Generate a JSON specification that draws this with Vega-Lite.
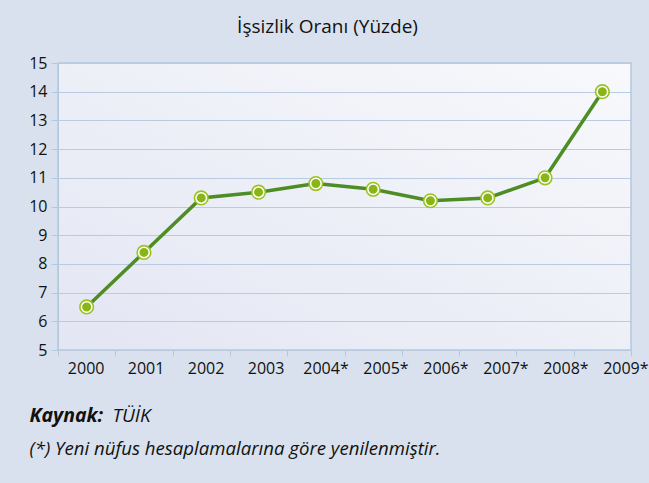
{
  "$schema": "https://vega.github.io/schema/vega-lite/v6.json",
  "width": 573,
  "height": 287,
  "autosize": {"type": "none"},
  "padding": {"left": 58, "top": 63, "right": 18, "bottom": 133},
  "background": "#d8e1ed",
  "title": {
    "text": "İşsizlik Oranı (Yüzde)",
    "font": "Open Sans",
    "fontSize": 19,
    "fontWeight": "normal",
    "color": "#111111",
    "anchor": "middle",
    "dx": -17,
    "offset": 18
  },
  "data": {
    "values": [
      {"year": "2000", "rate": 6.5},
      {"year": "2001", "rate": 8.4},
      {"year": "2002", "rate": 10.3},
      {"year": "2003", "rate": 10.5},
      {"year": "2004*", "rate": 10.8},
      {"year": "2005*", "rate": 10.6},
      {"year": "2006*", "rate": 10.2},
      {"year": "2007*", "rate": 10.3},
      {"year": "2008*", "rate": 11.0},
      {"year": "2009*", "rate": 14.0}
    ]
  },
  "encoding": {
    "x": {
      "field": "year",
      "type": "ordinal",
      "sort": null,
      "scale": {"type": "band", "paddingInner": 0, "paddingOuter": 0},
      "axis": {
        "title": "(*) Yeni nüfus hesaplamalarına göre yenilenmiştir.",
        "titleFont": "Open Sans",
        "titleFontSize": 18.6,
        "titleFontStyle": "italic",
        "titleFontWeight": "normal",
        "titleColor": "#111111",
        "titleAnchor": null,
        "titleAlign": "left",
        "titleBaseline": "alphabetic",
        "titleX": -29,
        "titleY": 104,
        "labelAngle": 0,
        "labelFont": "Open Sans",
        "labelFontSize": 16,
        "labelColor": "#111111",
        "labelPadding": 4,
        "tickBand": "extent",
        "tickColor": "#b5c8de",
        "tickSize": 6,
        "domain": false,
        "grid": false,
        "encoding": {"labels": {"dx": {"value": {"expr": "datum.index * 24 - 1"}}}}
      }
    }
  },
  "layer": [
    {
      "mark": {"type": "line", "color": "#4e8c26", "strokeWidth": 3.5},
      "encoding": {
        "y": {
          "field": "rate",
          "type": "quantitative",
          "scale": {"domain": [5, 15], "nice": false, "zero": false},
          "axis": {
            "values": [5, 6, 7, 8, 9, 10, 11, 12, 13, 14, 15],
            "title": "Kaynak:",
            "titleFont": "Open Sans",
            "titleFontSize": 19.5,
            "titleFontStyle": "italic",
            "titleFontWeight": "bold",
            "titleColor": "#111111",
            "titleAngle": 0,
            "titleAnchor": null,
            "titleAlign": "left",
            "titleBaseline": "alphabetic",
            "titleX": -29,
            "titleY": 358,
            "labelFont": "Open Sans",
            "labelFontSize": 16,
            "labelColor": "#111111",
            "labelPadding": 4,
            "tickColor": "#b5c8de",
            "tickSize": 7,
            "domainColor": "#b5c8de",
            "gridColor": "#b8cbe0",
            "gridWidth": 1.2
          }
        }
      }
    },
    {
      "mark": {"type": "point", "filled": true, "color": "#9cc220", "opacity": 1, "size": 230},
      "encoding": {
        "y": {
          "field": "rate",
          "type": "quantitative",
          "axis": {
            "orient": "right",
            "title": "TÜİK",
            "titleFont": "Open Sans",
            "titleFontSize": 19,
            "titleFontStyle": "italic",
            "titleFontWeight": "normal",
            "titleColor": "#111111",
            "titleAngle": 0,
            "titleAnchor": null,
            "titleAlign": "left",
            "titleBaseline": "alphabetic",
            "titleX": -519,
            "titleY": 358,
            "labels": false,
            "ticks": false,
            "domain": false,
            "grid": false
          }
        }
      }
    },
    {
      "mark": {"type": "point", "filled": true, "color": "#8ab517", "opacity": 1, "size": 110, "stroke": "#ffffff", "strokeWidth": 1.5},
      "encoding": {
        "y": {"field": "rate", "type": "quantitative", "axis": null}
      }
    }
  ],
  "resolve": {"axis": {"y": "independent"}},
  "config": {
    "view": {
      "stroke": "#b5c8de",
      "strokeWidth": 1.5,
      "fill": {
        "gradient": "linear",
        "x1": 0, "y1": 1, "x2": 1, "y2": 0,
        "stops": [
          {"offset": 0, "color": "#e3e6f3"},
          {"offset": 1, "color": "#f8f9fc"}
        ]
      }
    }
  }
}
